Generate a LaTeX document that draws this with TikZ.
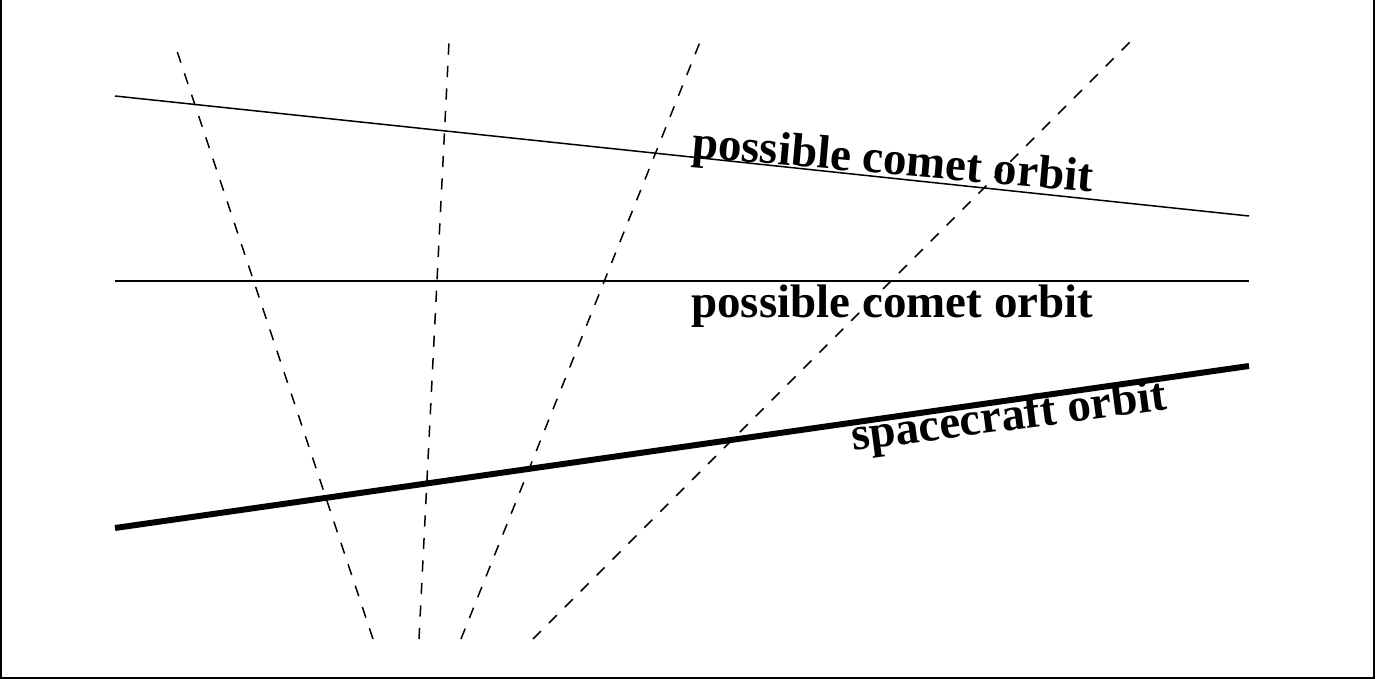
\documentclass[tikz,border=0pt]{standalone}
\usepackage{fontspec}
\setmainfont{Liberation Serif}
\begin{document}
\begin{tikzpicture}[x=1pt,y=-1pt,
  orbit/.style={line width=1.5pt},
  scorbit/.style={line width=6pt},
  ray/.style={line width=1.5pt, dash pattern=on 11.25pt off 11.25pt},
  lbl/.style={inner sep=0pt, anchor=base west, font=\fontsize{47}{50}\selectfont\bfseries},
  frame/.style={line width=2pt}]
\useasboundingbox (0,0) rectangle (1393,679);
% frame (top edge lies above the picture)
\coordinate (f1) at (1,-20);
\coordinate (f2) at (1,678);
\coordinate (f3) at (1374,678);
\coordinate (f4) at (1374,-20);
\draw[frame] (f1) -- (f2) -- (f3) -- (f4);
% orbits
\coordinate (c1a) at (115,96);
\coordinate (c1b) at (1249,216);
\coordinate (c2a) at (115,281);
\coordinate (c2b) at (1249,281);
\coordinate (sa) at (115,528);
\coordinate (sb) at (1249,366);
\draw[orbit] (c1a) -- (c1b);
\draw[orbit] (c2a) -- (c2b);
\draw[scorbit] (sa) -- (sb);
% dashed rays
\coordinate (r1b) at (373,639);
\coordinate (r1t) at (176,48);
\coordinate (r2b) at (419,639);
\coordinate (r2t) at (449,42);
\coordinate (r3b) at (461,639);
\coordinate (r3t) at (700,42);
\coordinate (r4b) at (533,639);
\coordinate (r4t) at (1130,42);
\draw[ray] (r1b) -- (r1t);
\draw[ray] (r2b) -- (r2t);
\draw[ray] (r3b) -- (r3t);
\draw[ray] (r4b) -- (r4t);
% labels
\node[lbl, rotate=-5] (t1) at (691,157) {possible comet orbit};
\node[lbl] (t2) at (691,317) {possible comet orbit};
\node[lbl, rotate=7.5] (t3) at (853,451) {spacecraft orbit};
\end{tikzpicture}
\end{document}
